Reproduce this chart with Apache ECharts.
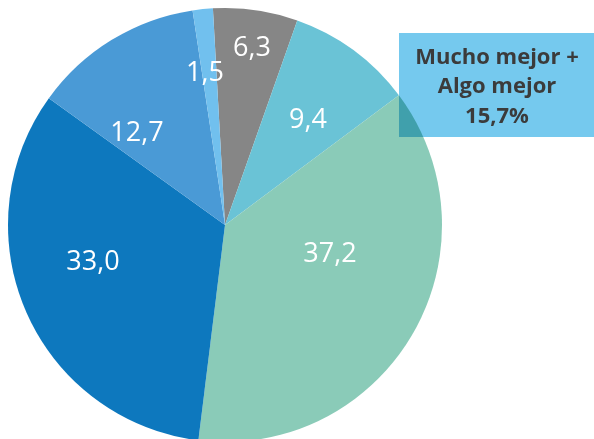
<!DOCTYPE html>
<html>
<head>
<meta charset="utf-8">
<script src="https://cdn.jsdelivr.net/npm/echarts@6/dist/echarts.min.js"></script>
<style>
  html, body { margin: 0; padding: 0; background: #fff; }
  #main { width: 594px; height: 439px; }
</style>
</head>
<body>
<div id="main"></div>
<script>
// datos
let categories = ['Algo peor', 'Mucho mejor', 'Algo mejor', 'Igual', 'Mucho peor', 'NS/NC'];
let values = [6.3, 9.4, 37.2, 33.0, 12.7, 1.5];
let colors = ['#868686', '#6AC3D6', '#8ACBB8', '#0D78BE', '#4A9AD6', '#71C0EE'];
let boxLines = ['Mucho mejor +', 'Algo mejor', '15,7%'];

// posicion de las etiquetas (centro del texto)
let labelPos = [[252, 48], [308, 120], [330, 254], [93, 262], [137, 133], [205, 73]];

let pieData = [];
for (let i = 0; i < values.length; i++) {
    pieData.push({
        name: categories[i],
        value: values[i],
        itemStyle: { color: colors[i] }
    });
}

let option = {
    animation: false,
    series: [
        {
            type: 'pie',
            center: [225, 225],
            radius: [0, 217],
            startAngle: 93.2,
            clockwise: true,
            avoidLabelOverlap: false,
            itemStyle: { borderWidth: 0 },
            label: {
                show: true,
                position: 'inside',
                color: '#fff',
                fontFamily: 'Open Sans',
                fontWeight: 500,
                fontSize: 27,
                formatter: function (p) {
                    return p.value.toFixed(1).replace('.', ',');
                }
            },
            labelLine: { show: false },
            labelLayout: function (params) {
                let pos = labelPos[params.dataIndex];
                return { x: pos[0], y: pos[1], align: 'center', verticalAlign: 'middle' };
            },
            data: pieData
        }
    ],
    graphic: [
        {
            type: 'rect',
            shape: { x: 399, y: 33, width: 195, height: 104 },
            style: { fill: '#75C9EE', blend: 'multiply' },
            z: 10
        },
        {
            type: 'text',
            x: 497,
            y: 87,
            style: {
                text: boxLines.join('\n'),
                fill: '#3b3b3b',
                font: 'bold 22px "Open Sans"',
                lineHeight: 29.5,
                align: 'center',
                verticalAlign: 'middle'
            },
            z: 11
        }
    ]
};

let myChart = echarts.init(document.getElementById('main'));
myChart.setOption(option);
</script>
</body>
</html>
